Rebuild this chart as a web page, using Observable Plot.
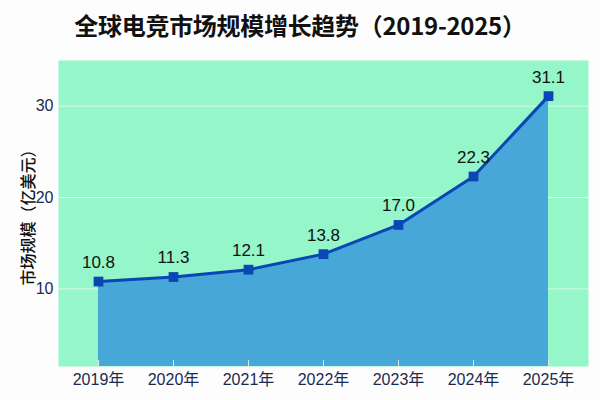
<!DOCTYPE html>
<html>
<head>
<meta charset="utf-8">
<script src="https://cdn.jsdelivr.net/npm/d3@7"></script>
<script src="https://cdn.jsdelivr.net/npm/@observablehq/plot@0.6"></script>
<style>
  html, body { margin: 0; padding: 0; background: #fdfdfd; }
  #wrap { width: 600px; height: 400px; position: relative; font-family: "Noto Sans CJK SC", "Noto Sans", sans-serif; }
  #title { height: 48px; line-height: 50px; text-align: center; font-size: 24px; font-weight: 700; color: #111; letter-spacing: -0.3px; }
</style>
</head>
<body>
<div id="wrap">
  <div id="title">全球电竞市场规模增长趋势（2019-2025）</div>
  <div id="chart"></div>
</div>
<script>
const years = ["2019年", "2020年", "2021年", "2022年", "2023年", "2024年", "2025年"];
const values = [10.8, 11.3, 12.1, 13.8, 17.0, 22.3, 31.1];
const yTicks = [10, 20, 30];
const yLabel = "市场规模（亿美元）";

const data = years.map((y, i) => ({year: y, value: values[i]}));
const numFont = "Liberation Sans, Arial, Noto Sans CJK SC, sans-serif";

const chart = Plot.plot({
  width: 600,
  height: 352,
  marginLeft: 58,
  marginRight: 12,
  marginTop: 12,
  marginBottom: 34,
  style: {fontFamily: numFont, background: "transparent"},
  x: {type: "point", domain: years, padding: 0.5},
  y: {domain: [1.5, 35]},
  marks: [
    Plot.frame({fill: "#94f6c9", stroke: null}),
    Plot.gridY(yTicks, {stroke: "#ffffff", strokeOpacity: 0.6, strokeWidth: 1}),
    Plot.areaY(data, {x: "year", y: "value", fill: "#46a7d8", clip: true}),
    Plot.axisX({tickSize: -6, tickPadding: 13, stroke: "#dfe6ec", fontSize: 16, fill: "#1c2a4f", label: null}),
    Plot.axisY({ticks: yTicks, tickSize: 0, tickPadding: 5, fontSize: 16, fill: "#1c2a4f",
      label: yLabel, labelAnchor: "center", labelArrow: "none", labelOffset: 36}),
    Plot.lineY(data, {x: "year", y: "value", stroke: "#0a46b4", strokeWidth: 3}),
    Plot.dot(data, {x: "year", y: "value", symbol: "square", r: 5.5, fill: "#0a46b4"}),
    Plot.text(data, {x: "year", y: "value", text: d => d.value.toFixed(1), dy: -19, fontSize: 17, fill: "#111"})
  ]
});
chart.querySelectorAll("g[aria-label='y-axis label'] text").forEach(t => {
  t.setAttribute("fill", "#111"); t.setAttribute("font-size", "16");
  t.setAttribute("font-family", "Noto Sans CJK SC, sans-serif"); t.setAttribute("font-weight", "500");
});
document.getElementById("chart").appendChild(chart);
</script>
</body>
</html>
